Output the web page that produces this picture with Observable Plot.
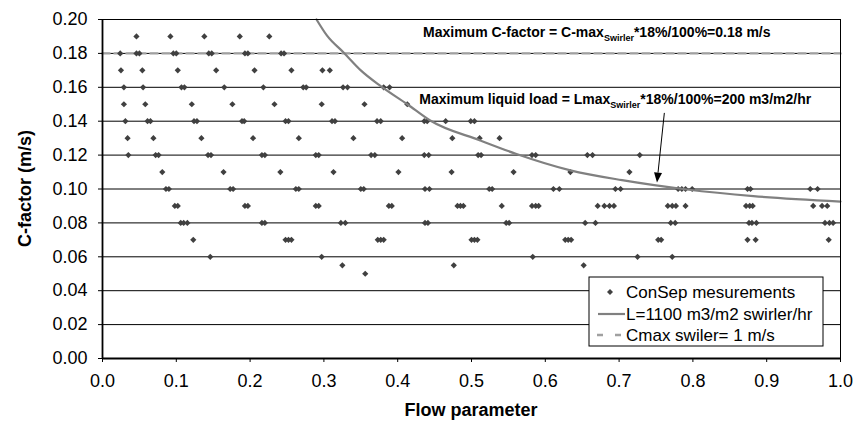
<!DOCTYPE html>
<html>
<head>
<meta charset="utf-8">
<script src="https://cdn.jsdelivr.net/npm/d3@7"></script>
<script src="https://cdn.jsdelivr.net/npm/@observablehq/plot@0.6"></script>
<style>
  html, body { margin: 0; padding: 0; background: #fff; }
  #chart { width: 857px; height: 430px; }
</style>
</head>
<body>
<div id="chart"></div>
<script>
// ---- Data ----
const rowC = [0.19, 0.18, 0.17, 0.16, 0.15, 0.14, 0.13, 0.12, 0.11, 0.10, 0.09, 0.08, 0.07, 0.06, 0.055, 0.05];
const rowF = [
  [0.046, 0.092, 0.138, 0.186, 0.226],
  [0.024, 0.046, 0.050, 0.096, 0.100, 0.144, 0.148, 0.193, 0.197, 0.242, 0.246],
  [0.025, 0.054, 0.102, 0.154, 0.206, 0.256, 0.298, 0.308],
  [0.029, 0.055, 0.107, 0.111, 0.165, 0.218, 0.272, 0.276, 0.326, 0.332, 0.381, 0.389],
  [0.029, 0.058, 0.121, 0.176, 0.233, 0.297, 0.355, 0.413],
  [0.031, 0.061, 0.065, 0.124, 0.128, 0.189, 0.192, 0.248, 0.252, 0.311, 0.315, 0.372, 0.377, 0.436, 0.440, 0.465, 0.499, 0.504],
  [0.034, 0.069, 0.134, 0.204, 0.266, 0.340, 0.406, 0.474, 0.511, 0.538],
  [0.035, 0.072, 0.076, 0.143, 0.147, 0.216, 0.220, 0.289, 0.293, 0.364, 0.369, 0.436, 0.442, 0.509, 0.513, 0.582, 0.587, 0.657, 0.664, 0.728],
  [0.081, 0.164, 0.241, 0.313, 0.401, 0.473, 0.557, 0.634, 0.714],
  [0.086, 0.090, 0.173, 0.177, 0.262, 0.266, 0.350, 0.354, 0.437, 0.443, 0.524, 0.528, 0.611, 0.619, 0.695, 0.702, 0.780, 0.785, 0.790, 0.799, 0.874, 0.878, 0.959, 0.969],
  [0.098, 0.102, 0.193, 0.197, 0.289, 0.293, 0.388, 0.392, 0.481, 0.485, 0.489, 0.541, 0.582, 0.587, 0.591, 0.671, 0.680, 0.687, 0.693, 0.766, 0.772, 0.777, 0.790, 0.872, 0.877, 0.881, 0.963, 0.975, 0.982],
  [0.106, 0.110, 0.115, 0.216, 0.220, 0.323, 0.329, 0.437, 0.441, 0.547, 0.551, 0.654, 0.668, 0.770, 0.776, 0.876, 0.880, 0.886, 0.979, 0.985, 0.990],
  [0.123, 0.248, 0.252, 0.256, 0.373, 0.377, 0.381, 0.500, 0.504, 0.508, 0.627, 0.631, 0.635, 0.753, 0.757, 0.874, 0.885, 0.984],
  [0.146, 0.297, 0.583, 0.725, 0.772],
  [0.325, 0.476, 0.652],
  [0.356]
];
// L = 1100 m3/m2 swirler/hr curve
const curveF = [0.290, 0.304, 0.327, 0.350, 0.377, 0.413, 0.444, 0.512, 0.560, 0.634, 0.704, 0.792, 0.882, 1.000];
const curveC = [0.200, 0.1906, 0.1804, 0.170, 0.1607, 0.150, 0.1404, 0.1286, 0.1208, 0.111, 0.1052, 0.0997, 0.0958, 0.0926];
// Cmax swirler line
const cmaxF = [0, 1];
const cmaxC = [0.18, 0.18];
// Ticks
const yTicks = [0, 0.02, 0.04, 0.06, 0.08, 0.10, 0.12, 0.14, 0.16, 0.18, 0.20];
const xTicks = [0, 0.1, 0.2, 0.3, 0.4, 0.5, 0.6, 0.7, 0.8, 0.9, 1.0];
const gridC = [0.02, 0.04, 0.06, 0.08, 0.10, 0.12, 0.14, 0.16, 0.18];
// Annotations (data coordinates)
const ann1 = {x: 0.435, y: 0.1893, pre: "Maximum C-factor = C-max", sub: "Swirler", post: "*18%/100%=0.18 m/s"};
const ann2 = {x: 0.430, y: 0.1500, pre: "Maximum liquid load = Lmax", sub: "Swirler", post: "*18%/100%=200 m3/m2/hr"};
const arrow = {x1: 0.762, y1: 0.1446, x2: 0.752, y2: 0.1035};
const legendLabels = ["ConSep mesurements", "L=1100 m3/m2 swirler/hr", "Cmax swiler= 1 m/s"];

const points = rowC.flatMap((c, i) => rowF[i].map(f => ({f, c})));
const curve = curveF.map((f, i) => ({f, c: curveC[i]}));
const cmax = cmaxF.map((f, i) => ({f, c: cmaxC[i]}));

const FONT = "'Liberation Sans', Arial, sans-serif";

const plot = Plot.plot({
  width: 857,
  height: 430,
  marginLeft: 102,
  marginRight: 17,
  marginTop: 19,
  marginBottom: 72,
  style: {fontFamily: FONT, fontSize: "18px", color: "#000", background: "#fff"},
  x: {domain: [0, 1], ticks: xTicks, tickFormat: d3.format(".1f")},
  y: {domain: [0, 0.2], ticks: yTicks, tickFormat: d3.format(".2f")},
  marks: [
    Plot.ruleY(gridC, {stroke: "#000", strokeWidth: 1}),
    Plot.line(cmax, {x: "f", y: "c", stroke: "#a0a0a0", strokeWidth: 2.4, strokeDasharray: "7,5"}),
    Plot.dot(points, {x: "f", y: "c", symbol: "diamond2", r: 2.8, fill: "#404040", stroke: "none"}),
    Plot.line(curve, {x: "f", y: "c", stroke: "#808080", strokeWidth: 2.2, curve: "monotone-x"}),
    Plot.frame({stroke: "#000", strokeWidth: 1}),
    Plot.ruleX([0], {stroke: "#000", strokeWidth: 1.8}),
    Plot.ruleY([0], {stroke: "#000", strokeWidth: 1.8}),
    Plot.axisX({ticks: xTicks, tickFormat: d3.format(".1f"), tickSize: 4, tickPadding: 12, fontSize: 18, label: null}),
    Plot.axisY({ticks: yTicks, tickFormat: d3.format(".2f"), tickSize: 4, tickPadding: 11, fontSize: 18, label: null}),
  ]
});

document.getElementById("chart").appendChild(plot);

const svg = d3.select(plot);
const sx = plot.scale("x"), sy = plot.scale("y");
const X = v => sx.apply(v), Y = v => sy.apply(v);

// axis titles
svg.append("text")
  .attr("x", (X(0) + X(1)) / 2).attr("y", 416)
  .attr("text-anchor", "middle").attr("font-family", FONT)
  .attr("font-size", 18).attr("font-weight", "bold").text("Flow parameter");
svg.append("text")
  .attr("transform", `translate(31,${(Y(0) + Y(0.2)) / 2}) rotate(-90)`)
  .attr("text-anchor", "middle").attr("font-family", FONT)
  .attr("font-size", 18).attr("font-weight", "bold").text("C-factor (m/s)");

// annotations with subscripts
for (const a of [ann1, ann2]) {
  const t = svg.append("text")
    .attr("x", X(a.x)).attr("y", Y(a.y)).attr("text-anchor", "start")
    .attr("font-family", FONT).attr("font-size", 14).attr("font-weight", "bold");
  t.append("tspan").text(a.pre);
  t.append("tspan").attr("font-size", 9).attr("dy", 4).text(a.sub);
  t.append("tspan").attr("dy", -4).text(a.post);
}

// arrow with filled head
{
  const x1 = X(arrow.x1), y1 = Y(arrow.y1), x2 = X(arrow.x2), y2 = Y(arrow.y2);
  const ang = Math.atan2(y2 - y1, x2 - x1);
  const L = 10, W = 4;
  const bx = x2 - L * Math.cos(ang), by = y2 - L * Math.sin(ang);
  svg.append("line").attr("x1", x1).attr("y1", y1).attr("x2", bx).attr("y2", by)
    .attr("stroke", "#000").attr("stroke-width", 1);
  const px = -Math.sin(ang) * W, py = Math.cos(ang) * W;
  svg.append("path")
    .attr("d", `M${x2},${y2}L${bx + px},${by + py}L${bx - px},${by - py}Z`)
    .attr("fill", "#000");
}

// legend box
{
  const lx = 589, ly = 277, lw = 234, lh = 69;
  const g = svg.append("g").attr("font-family", FONT).attr("font-size", 17).attr("text-anchor", "start");
  g.append("rect").attr("x", lx).attr("y", ly).attr("width", lw).attr("height", lh)
    .attr("fill", "#fff").attr("stroke", "#000").attr("stroke-width", 1);
  const rows = [ly + 15, ly + 37, ly + 58];
  g.append("path").attr("d", "M0,-3L3,0L0,3L-3,0Z").attr("transform", `translate(610,${rows[0]})`).attr("fill", "#404040");
  g.append("line").attr("x1", 598).attr("x2", 625).attr("y1", rows[1]).attr("y2", rows[1])
    .attr("stroke", "#808080").attr("stroke-width", 2.2);
  g.append("line").attr("x1", 597).attr("x2", 625).attr("y1", rows[2]).attr("y2", rows[2])
    .attr("stroke", "#a0a0a0").attr("stroke-width", 2.4).attr("stroke-dasharray", "6,12");
  legendLabels.forEach((s, i) => {
    g.append("text").attr("x", 626).attr("y", rows[i]).attr("dy", "0.35em").text(s);
  });
}
</script>
</body>
</html>
